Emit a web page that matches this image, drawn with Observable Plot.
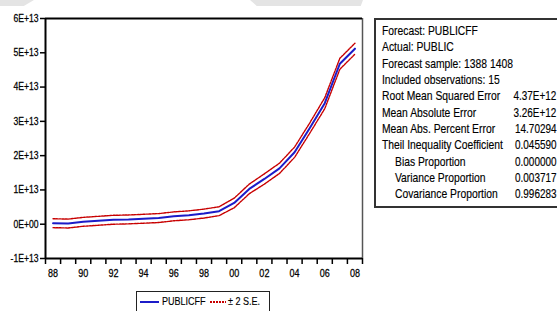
<!DOCTYPE html>
<html>
<head>
<meta charset="utf-8">
<script src="https://cdn.jsdelivr.net/npm/d3@7"></script>
<script src="https://cdn.jsdelivr.net/npm/@observablehq/plot@0.6"></script>
<style>
  html, body { margin: 0; padding: 0; background: #fff; overflow: hidden; }
  #wrap { position: relative; width: 557px; height: 311px; overflow: hidden;
    font-family: 'Liberation Sans', Arial, sans-serif; color: #000; }
  #chart { position: absolute; left: 0; top: 0; }
  #chart text { stroke: #000; stroke-width: 0.25px; paint-order: stroke; }
  .wm { position: absolute; background: #e4e4e4; }
  #stats { position: absolute; left: 374px; top: 18px; width: 200px; height: 182.5px;
    border: 2px solid #333; font-size: 12.6px; line-height: 16.33px; padding-top: 3px; box-sizing: content-box;
    -webkit-text-stroke: 0.15px #000; }
  .row { position: relative; height: 16.33px; white-space: nowrap; }
  .n { display: inline-block; transform: scaleX(0.82); transform-origin: 0 0; white-space: nowrap; }
  .lab { position: absolute; left: 5.7px; }
  .ind { left: 19px; }
  .val { position: absolute; right: 19.5px; display: inline-block; transform: scaleX(0.79); transform-origin: 100% 0; }
  #legend { position: absolute; left: 136px; top: 291px; width: 132px; height: 24px;
    border: 1.5px solid #222; font-size: 11px; -webkit-text-stroke: 0.15px #000; }
  .sw { position: absolute; top: 9px; height: 2px; }
</style>
</head>
<body>
<div id="wrap">
  <div class="wm" style="left:0;top:0;width:34px;height:6px;clip-path:polygon(0 0,100% 0,70% 100%,0 100%);"></div>
  <div class="wm" style="left:250px;top:0;width:113px;height:6px;clip-path:polygon(0 0,100% 0,98% 100%,6% 100%);"></div>
  <div id="chart"></div>
  <div id="stats"></div>
  <div id="legend"></div>
</div>
<script>
// Years (annual, 1988-2008)
const years = [1988,1989,1990,1991,1992,1993,1994,1995,1996,1997,1998,1999,2000,2001,2002,2003,2004,2005,2006,2007,2008];
// PUBLICFF forecast
const forecast = [0.03e13,0.02e13,0.07e13,0.10e13,0.13e13,0.14e13,0.16e13,0.18e13,0.23e13,0.26e13,0.31e13,0.38e13,0.62e13,1.03e13,1.32e13,1.63e13,2.10e13,2.80e13,3.53e13,4.68e13,5.12e13];
// +2 S.E. band
const upper = [0.16e13,0.15e13,0.20e13,0.23e13,0.26e13,0.27e13,0.29e13,0.31e13,0.36e13,0.39e13,0.44e13,0.51e13,0.76e13,1.17e13,1.47e13,1.78e13,2.25e13,2.95e13,3.69e13,4.84e13,5.28e13];
// -2 S.E. band
const lower = [-0.10e13,-0.11e13,-0.06e13,-0.03e13,0.00e13,0.01e13,0.03e13,0.05e13,0.10e13,0.13e13,0.18e13,0.25e13,0.48e13,0.89e13,1.17e13,1.48e13,1.95e13,2.65e13,3.37e13,4.52e13,4.96e13];
// Axis ticks
const yTicks = [-1e13,0,1e13,2e13,3e13,4e13,5e13,6e13];
const yTickLabels = ["-1E+13","0E+00","1E+13","2E+13","3E+13","4E+13","5E+13","6E+13"];
const xLabelYears = [1988,1990,1992,1994,1996,1998,2000,2002,2004,2006,2008];
const xLabels = ["88","90","92","94","96","98","00","02","04","06","08"];
// Stats table
const statLabels = ["Forecast: PUBLICFF","Actual: PUBLIC","Forecast sample: 1388 1408","Included observations: 15",
  "Root Mean Squared Error","Mean Absolute Error","Mean Abs. Percent Error","Theil Inequality Coefficient",
  "Bias Proportion","Variance Proportion","Covariance Proportion"];
const statValues = ["","","","","4.37E+12","3.26E+12","14.70294","0.045590","0.000000","0.003717","0.996283"];
const statIndent = [false,false,false,false,false,false,false,false,true,true,true];
// Legend
const legendItems = ["PUBLICFF","± 2 S.E."];

const data = years.map((y,i) => ({year: y, forecast: forecast[i], upper: upper[i], lower: lower[i]}));
const boundaries = years.map(y => y - 0.5).concat([years[years.length-1] + 0.5]);

const chart = Plot.plot({
  width: 557, height: 311,
  marginLeft: 45, marginRight: 195, marginTop: 18, marginBottom: 53,
  style: {fontFamily: "'Liberation Sans',Arial,sans-serif", fontSize: "10.5px", color: "#000", background: "transparent"},
  x: {domain: [boundaries[0], boundaries[boundaries.length-1]]},
  y: {domain: [yTicks[0], yTicks[yTicks.length-1]]},
  marks: [
    Plot.line(data, {x: "year", y: "upper", stroke: "#c80000", strokeWidth: 1.4, strokeDasharray: "2,1"}),
    Plot.line(data, {x: "year", y: "lower", stroke: "#c80000", strokeWidth: 1.4, strokeDasharray: "2,1"}),
    Plot.line(data, {x: "year", y: "forecast", stroke: "#1c1cc8", strokeWidth: 2}),
    Plot.ruleX([boundaries[boundaries.length-1]], {stroke: "#555", strokeWidth: 1.5}),
    Plot.ruleY([yTicks[yTicks.length-1]], {stroke: "#000", strokeWidth: 2}),
    Plot.ruleX([boundaries[0]], {stroke: "#000", strokeWidth: 2}),
    Plot.ruleY([yTicks[0]], {stroke: "#000", strokeWidth: 2}),
    Plot.axisY({ticks: yTicks, tickFormat: d => yTickLabels[yTicks.indexOf(d)], tickSize: 5, tickPadding: 2, strokeWidth: 1.5, label: null}),
    Plot.axisX({ticks: boundaries, tickFormat: () => "", tickSize: 6, strokeWidth: 1.5, label: null}),
    Plot.axisX({ticks: xLabelYears, tickFormat: d => xLabels[xLabelYears.indexOf(d)], tickSize: 0, tickPadding: 11, fontSize: 11, label: null})
  ]
});
// condense SVG text horizontally (narrow face is not installed)
chart.querySelectorAll("text").forEach(t => {
  const tr = t.getAttribute("transform");
  if (tr) {
    t.setAttribute("transform", tr + " scale(0.82,1)");
  } else {
    const x = t.getAttribute("x") || 0, y = t.getAttribute("y") || 0;
    t.removeAttribute("x"); t.removeAttribute("y");
    t.setAttribute("transform", `translate(${x},${y}) scale(0.82,1)`);
  }
});
document.getElementById("chart").appendChild(chart);

const stats = document.getElementById("stats");
statLabels.forEach((l, i) => {
  const row = document.createElement("div");
  row.className = "row";
  const a = document.createElement("span");
  a.className = "n lab" + (statIndent[i] ? " ind" : "");
  a.textContent = l;
  row.appendChild(a);
  if (statValues[i]) {
    const v = document.createElement("span");
    v.className = "val";
    v.textContent = statValues[i];
    row.appendChild(v);
  }
  stats.appendChild(row);
});

const legend = document.getElementById("legend");
legend.innerHTML =
  `<div class="sw" style="left:3px;width:18.5px;background:#1c1cc8;"></div>` +
  `<span class="n" style="position:absolute;left:24.5px;top:3px;">${legendItems[0]}</span>` +
  `<div class="sw" style="left:73px;width:16px;background:repeating-linear-gradient(90deg,#c80000 0 2px,transparent 2px 3px);"></div>` +
  `<span class="n" style="position:absolute;left:91px;top:3px;">${legendItems[1]}</span>`;
</script>
</body>
</html>
